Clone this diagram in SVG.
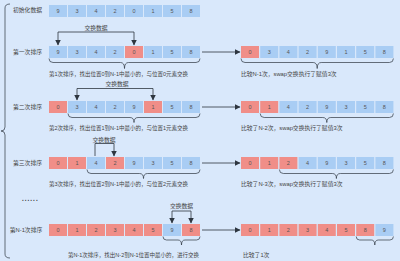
<svg xmlns="http://www.w3.org/2000/svg" width="400" height="261" viewBox="0 0 400 261">
  <style>
    .bg { fill: #d9e8fb; }
    .b { fill: #a9cdf4; }
    .r { fill: #f08e88; }
    .num { font-family: "Liberation Sans", "Noto Sans CJK SC", sans-serif; font-size: 5.5px; fill: #555; text-anchor: middle; }
    .lbl { font-family: "Liberation Sans", "Noto Sans CJK SC", sans-serif; font-size: 5.8px; fill: #444; }
    .desc { font-size: 5.5px; }
    .mid { text-anchor: middle; }
    .ln { fill: none; stroke: #2e3640; stroke-width: 0.8; }
    .br { fill: none; stroke: #2e3640; stroke-width: 0.7; }
  </style>
  <defs>
    <marker id="ah" viewBox="0 0 6 6" refX="5.5" refY="3" markerWidth="6" markerHeight="6" markerUnits="userSpaceOnUse" orient="auto">
      <path d="M0,0 L6,3 L0,6 Z" fill="#2e3640"/>
    </marker>
  </defs>
  <rect class="bg" x="0" y="0" width="400" height="261"/>

  <!-- outer brace grouping all passes -->
  <path class="br" d="M10,4 q-5,0 -5,4 V127 q0,4 -4,4 q4,0 4,4 V254 q0,4 5,4"/>

  <!-- initial data -->
  <g id="row-init">
    <text class="lbl mid" x="27.5" y="12">初始化数据</text>
    <rect class="b" x="49" y="5" width="18" height="12"/><text class="num" x="58" y="13">9</text>
    <rect class="b" x="68" y="5" width="18" height="12"/><text class="num" x="77" y="13">3</text>
    <rect class="b" x="87" y="5" width="18" height="12"/><text class="num" x="96" y="13">4</text>
    <rect class="b" x="106" y="5" width="18" height="12"/><text class="num" x="115" y="13">2</text>
    <rect class="b" x="125" y="5" width="18" height="12"/><text class="num" x="134" y="13">0</text>
    <rect class="b" x="144" y="5" width="18" height="12"/><text class="num" x="153" y="13">1</text>
    <rect class="b" x="163" y="5" width="18" height="12"/><text class="num" x="172" y="13">5</text>
    <rect class="b" x="182" y="5" width="18" height="12"/><text class="num" x="191" y="13">8</text>
  </g>

  <!-- pass 1 -->
  <g id="pass1-before">
    <text class="lbl mid" x="27.5" y="54">第一次排序</text>
    <text class="lbl mid" x="96" y="30">交换数据</text>
    <rect class="b" x="49" y="46" width="18" height="12"/><text class="num" x="58" y="54">9</text>
    <rect class="b" x="68" y="46" width="18" height="12"/><text class="num" x="77" y="54">3</text>
    <rect class="b" x="87" y="46" width="18" height="12"/><text class="num" x="96" y="54">4</text>
    <rect class="b" x="106" y="46" width="18" height="12"/><text class="num" x="115" y="54">2</text>
    <rect class="r" x="125" y="46" width="18" height="12"/><text class="num" x="134" y="54">0</text>
    <rect class="b" x="144" y="46" width="18" height="12"/><text class="num" x="153" y="54">1</text>
    <rect class="b" x="163" y="46" width="18" height="12"/><text class="num" x="172" y="54">5</text>
    <rect class="b" x="182" y="46" width="18" height="12"/><text class="num" x="191" y="54">8</text>
    <text class="lbl desc" x="49" y="75.5">第1次排序，找出位置0到N-1中最小的，与位置0元素交换</text>
  </g>
  <g id="pass1-after">
    <rect class="r" x="241" y="46" width="18" height="12"/><text class="num" x="250" y="54">0</text>
    <rect class="b" x="260.2" y="46" width="18" height="12"/><text class="num" x="269.2" y="54">3</text>
    <rect class="b" x="279.4" y="46" width="18" height="12"/><text class="num" x="288.4" y="54">4</text>
    <rect class="b" x="298.6" y="46" width="18" height="12"/><text class="num" x="307.6" y="54">2</text>
    <rect class="b" x="317.8" y="46" width="18" height="12"/><text class="num" x="326.8" y="54">9</text>
    <rect class="b" x="337" y="46" width="18" height="12"/><text class="num" x="346" y="54">1</text>
    <rect class="b" x="356.2" y="46" width="18" height="12"/><text class="num" x="365.2" y="54">5</text>
    <rect class="b" x="375.4" y="46" width="18" height="12"/><text class="num" x="384.4" y="54">8</text>
    <text class="lbl" x="241" y="75.5">比较N-1次，swap交换执行了赋值3次</text>
  </g>

  <!-- pass 2 -->
  <g id="pass2-before">
    <text class="lbl mid" x="27.5" y="109">第二次排序</text>
    <text class="lbl mid" x="117" y="86">交换数据</text>
    <rect class="r" x="49" y="101" width="18" height="12"/><text class="num" x="58" y="109">0</text>
    <rect class="b" x="68" y="101" width="18" height="12"/><text class="num" x="77" y="109">3</text>
    <rect class="b" x="87" y="101" width="18" height="12"/><text class="num" x="96" y="109">4</text>
    <rect class="b" x="106" y="101" width="18" height="12"/><text class="num" x="115" y="109">2</text>
    <rect class="b" x="125" y="101" width="18" height="12"/><text class="num" x="134" y="109">9</text>
    <rect class="r" x="144" y="101" width="18" height="12"/><text class="num" x="153" y="109">1</text>
    <rect class="b" x="163" y="101" width="18" height="12"/><text class="num" x="172" y="109">5</text>
    <rect class="b" x="182" y="101" width="18" height="12"/><text class="num" x="191" y="109">8</text>
    <text class="lbl desc" x="49" y="129.5">第2次排序，找出位置1到N-1中最小的，与位置1元素交换</text>
  </g>
  <g id="pass2-after">
    <rect class="r" x="241" y="101" width="18" height="12"/><text class="num" x="250" y="109">0</text>
    <rect class="r" x="260.2" y="101" width="18" height="12"/><text class="num" x="269.2" y="109">1</text>
    <rect class="b" x="279.4" y="101" width="18" height="12"/><text class="num" x="288.4" y="109">4</text>
    <rect class="b" x="298.6" y="101" width="18" height="12"/><text class="num" x="307.6" y="109">2</text>
    <rect class="b" x="317.8" y="101" width="18" height="12"/><text class="num" x="326.8" y="109">9</text>
    <rect class="b" x="337" y="101" width="18" height="12"/><text class="num" x="346" y="109">3</text>
    <rect class="b" x="356.2" y="101" width="18" height="12"/><text class="num" x="365.2" y="109">5</text>
    <rect class="b" x="375.4" y="101" width="18" height="12"/><text class="num" x="384.4" y="109">8</text>
    <text class="lbl" x="241" y="129.5">比较了N-2次，swap交换执行了赋值3次</text>
  </g>

  <!-- pass 3 -->
  <g id="pass3-before">
    <text class="lbl mid" x="27.5" y="165">第三次排序</text>
    <text class="lbl mid" x="104" y="142">交换数据</text>
    <rect class="r" x="49" y="157" width="18" height="12"/><text class="num" x="58" y="165">0</text>
    <rect class="r" x="68" y="157" width="18" height="12"/><text class="num" x="77" y="165">1</text>
    <rect class="b" x="87" y="157" width="18" height="12"/><text class="num" x="96" y="165">4</text>
    <rect class="r" x="106" y="157" width="18" height="12"/><text class="num" x="115" y="165">2</text>
    <rect class="b" x="125" y="157" width="18" height="12"/><text class="num" x="134" y="165">9</text>
    <rect class="b" x="144" y="157" width="18" height="12"/><text class="num" x="153" y="165">3</text>
    <rect class="b" x="163" y="157" width="18" height="12"/><text class="num" x="172" y="165">5</text>
    <rect class="b" x="182" y="157" width="18" height="12"/><text class="num" x="191" y="165">8</text>
    <text class="lbl desc" x="49" y="185.5">第3次排序，找出位置2到N-1中最小的，与位置2元素交换</text>
  </g>
  <g id="pass3-after">
    <rect class="r" x="241" y="157" width="18" height="12"/><text class="num" x="250" y="165">0</text>
    <rect class="r" x="260.2" y="157" width="18" height="12"/><text class="num" x="269.2" y="165">1</text>
    <rect class="r" x="279.4" y="157" width="18" height="12"/><text class="num" x="288.4" y="165">2</text>
    <rect class="b" x="298.6" y="157" width="18" height="12"/><text class="num" x="307.6" y="165">4</text>
    <rect class="b" x="317.8" y="157" width="18" height="12"/><text class="num" x="326.8" y="165">9</text>
    <rect class="b" x="337" y="157" width="18" height="12"/><text class="num" x="346" y="165">3</text>
    <rect class="b" x="356.2" y="157" width="18" height="12"/><text class="num" x="365.2" y="165">5</text>
    <rect class="b" x="375.4" y="157" width="18" height="12"/><text class="num" x="384.4" y="165">8</text>
    <text class="lbl" x="241" y="185.5">比较了N-3次，swap交换执行了赋值3次</text>
  </g>

  <text class="lbl" x="21.5" y="201" style="font-size:10px">......</text>

  <!-- pass N-1 -->
  <g id="passN-before">
    <text class="lbl mid" x="26" y="232">第N-1次排序</text>
    <text class="lbl mid" x="181.5" y="208">交换数据</text>
    <rect class="r" x="49" y="224" width="18" height="12"/><text class="num" x="58" y="232">0</text>
    <rect class="r" x="68" y="224" width="18" height="12"/><text class="num" x="77" y="232">1</text>
    <rect class="r" x="87" y="224" width="18" height="12"/><text class="num" x="96" y="232">2</text>
    <rect class="r" x="106" y="224" width="18" height="12"/><text class="num" x="115" y="232">3</text>
    <rect class="r" x="125" y="224" width="18" height="12"/><text class="num" x="134" y="232">4</text>
    <rect class="r" x="144" y="224" width="18" height="12"/><text class="num" x="153" y="232">5</text>
    <rect class="b" x="163" y="224" width="18" height="12"/><text class="num" x="172" y="232">9</text>
    <rect class="r" x="182" y="224" width="18" height="12"/><text class="num" x="191" y="232">8</text>
    <text class="lbl desc" x="68" y="257">第N-1次排序，找出N-2到N-1位置中最小的，进行交换</text>
  </g>
  <g id="passN-after">
    <rect class="r" x="241" y="224" width="18" height="12"/><text class="num" x="250" y="232">0</text>
    <rect class="r" x="260.2" y="224" width="18" height="12"/><text class="num" x="269.2" y="232">1</text>
    <rect class="r" x="279.4" y="224" width="18" height="12"/><text class="num" x="288.4" y="232">2</text>
    <rect class="r" x="298.6" y="224" width="18" height="12"/><text class="num" x="307.6" y="232">3</text>
    <rect class="r" x="317.8" y="224" width="18" height="12"/><text class="num" x="326.8" y="232">4</text>
    <rect class="r" x="337" y="224" width="18" height="12"/><text class="num" x="346" y="232">5</text>
    <rect class="r" x="356.2" y="224" width="18" height="12"/><text class="num" x="365.2" y="232">8</text>
    <rect class="b" x="375.4" y="224" width="18" height="12"/><text class="num" x="384.4" y="232">9</text>
    <text class="lbl" x="243" y="257">比较了1次</text>
  </g>

  <g id="connectors">
    <!-- swap brackets -->
    <path class="ln" d="M58,32 H134" />
    <path class="ln" d="M58,32 V45" marker-end="url(#ah)"/>
    <path class="ln" d="M134,32 V45" marker-end="url(#ah)"/>

    <path class="ln" d="M77,88.5 H153" />
    <path class="ln" d="M77,88.5 V100" marker-end="url(#ah)"/>
    <path class="ln" d="M153,88.5 V100" marker-end="url(#ah)"/>

    <path class="ln" d="M95,156 V143.5 H114" />
    <path class="ln" d="M114,143.5 V156" marker-end="url(#ah)"/>

    <path class="ln" d="M172,211 H191" />
    <path class="ln" d="M172,211 V223" marker-end="url(#ah)"/>
    <path class="ln" d="M191,211 V223" marker-end="url(#ah)"/>

    <!-- before to after arrows -->
    <path class="ln" d="M202,52 H240" marker-end="url(#ah)"/>
    <path class="ln" d="M202,107 H240" marker-end="url(#ah)"/>
    <path class="ln" d="M202,163 H240" marker-end="url(#ah)"/>
    <path class="ln" d="M202,230 H240" marker-end="url(#ah)"/>

    <!-- range braces under rows -->
    <path class="br" d="M49,58.5 q0,4 4,4 H120.5 q4,0 4,6 q0,-6 4,-6 H196 q4,0 4,-4"/>
    <path class="br" d="M241,58.5 q0,4 4,4 H313.2 q4,0 4,6 q0,-6 4,-6 H389.4 q4,0 4,-4"/>

    <path class="br" d="M68,113.5 q0,4 4,4 H130 q4,0 4,5 q0,-5 4,-5 H196 q4,0 4,-4"/>
    <path class="br" d="M260.2,113.5 q0,4 4,4 H322.8 q4,0 4,5 q0,-5 4,-5 H389.4 q4,0 4,-4"/>

    <path class="br" d="M87,169.5 q0,4 4,4 H139.5 q4,0 4,5 q0,-5 4,-5 H196 q4,0 4,-4"/>
    <path class="br" d="M279.4,169.5 q0,4 4,4 H332.4 q4,0 4,5 q0,-5 4,-5 H389.4 q4,0 4,-4"/>

    <path class="br" d="M163,236.5 q0,3.5 3.5,3.5 H178 q3.5,0 3.5,5 q0,-5 3.5,-5 H196.5 q3.5,0 3.5,-3.5"/>
    <path class="br" d="M356.2,236.5 q0,3.5 3.5,3.5 H371.3 q3.5,0 3.5,5 q0,-5 3.5,-5 H389.9 q3.5,0 3.5,-3.5"/>
  </g>
</svg>
